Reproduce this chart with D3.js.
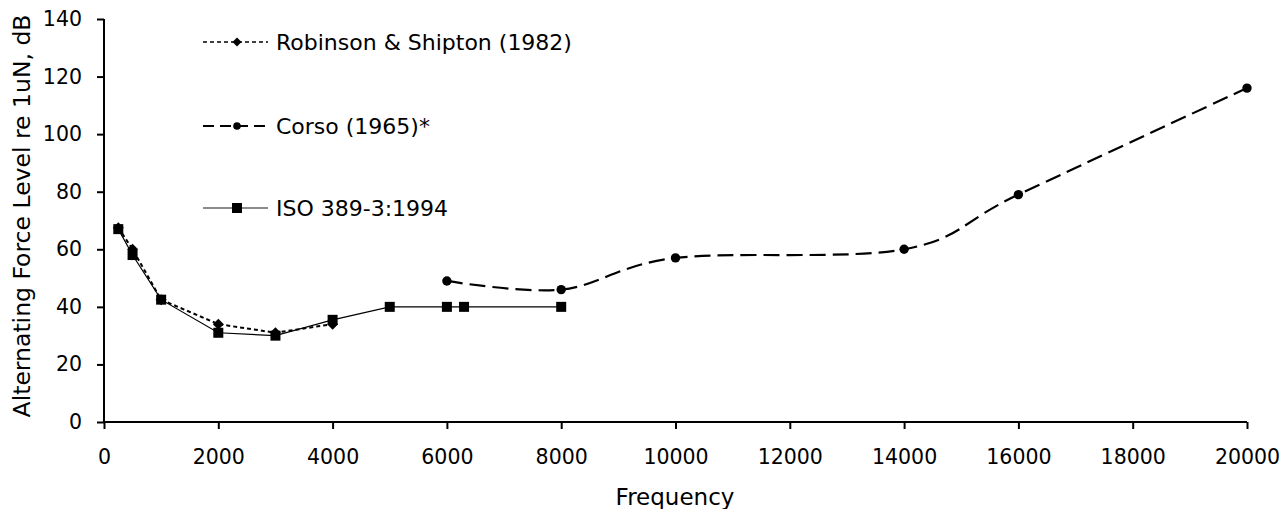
<!DOCTYPE html>
<html><head><meta charset="utf-8">
<script src="https://cdn.jsdelivr.net/npm/d3@7"></script>
<style>body{margin:0;background:#fff}svg{display:block}text{font-family:Verdana,"DejaVu Sans",sans-serif;fill:#000}</style>
</head><body><svg id="c" width="1286" height="509"></svg>
<script>
const robinsonFreq = [250, 500, 1000, 2000, 3000, 4000];
const robinsonLevel = [67.5, 60, 42.5, 34, 31, 34];
const corsoFreq = [6000, 8000, 10000, 14000, 16000, 20000];
const corsoLevel = [49, 46, 57, 60, 79, 116];
const isoFreq = [250, 500, 1000, 2000, 3000, 4000, 5000, 6000, 6300, 8000];
const isoLevel = [67, 58, 42.5, 31, 30, 35.5, 40, 40, 40, 40];
const xTicks = [0,2000,4000,6000,8000,10000,12000,14000,16000,18000,20000];
const yTicks = [0,20,40,60,80,100,120,140];

const svg = d3.select("#c");
const tfs = 20.5;
const x = d3.scaleLinear().domain([0,20000]).range([104,1247]);
const y = d3.scaleLinear().domain([0,140]).range([422,19]);

const xa = svg.append("g").attr("transform","translate(0,422)")
  .call(d3.axisBottom(x).tickValues(xTicks).tickSize(7).tickSizeOuter(0).tickPadding(20).tickFormat(d3.format("d")));
const ya = svg.append("g").attr("transform","translate(104,0)")
  .call(d3.axisLeft(y).tickValues(yTicks).tickSize(7).tickSizeOuter(0).tickPadding(15));
[xa,ya].forEach(a=>{a.selectAll("path,line").attr("stroke","#000").attr("stroke-width",2);
  a.selectAll("text").attr("font-size",tfs).attr("font-family","Verdana, 'DejaVu Sans', sans-serif");});
xa.select(".domain").attr("d","M104,0H1247");
ya.select(".domain").attr("d","M0,422V19");

svg.append("text").attr("x",675).attr("y",505).attr("text-anchor","middle").attr("font-size",23).text("Frequency");
svg.append("text").attr("transform","translate(30,216) rotate(-90)").attr("text-anchor","middle").attr("font-size",23.5).text("Alternating Force Level re 1uN, dB");

const mk = (f,l)=>f.map((d,i)=>({f:d,l:l[i]}));
const rob = mk(robinsonFreq,robinsonLevel), cor = mk(corsoFreq,corsoLevel), iso = mk(isoFreq,isoLevel);
const lineStraight = d3.line().x(d=>x(d.f)).y(d=>y(d.l));
const lineSmooth = d3.line().x(d=>x(d.f)).y(d=>y(d.l)).curve(d3.curveCatmullRom.alpha(0));

svg.append("path").attr("d",lineStraight(iso)).attr("fill","none").attr("stroke","#000").attr("stroke-width",1.2);
svg.append("path").attr("d",lineStraight(rob)).attr("fill","none").attr("stroke","#000").attr("stroke-width",2).attr("stroke-dasharray","4,3");
svg.append("path").attr("d",lineSmooth(cor)).attr("fill","none").attr("stroke","#000").attr("stroke-width",2.2).attr("stroke-dasharray","16,7");

const diamond = s=>`M0,${-s}L${s},0L0,${s}L${-s},0Z`;
svg.append("g").selectAll("path").data(rob).join("path").attr("d",diamond(5.5)).attr("transform",d=>`translate(${x(d.f)},${y(d.l)})`).attr("fill","#000");
svg.append("g").selectAll("circle").data(cor).join("circle").attr("cx",d=>x(d.f)).attr("cy",d=>y(d.l)).attr("r",4.7).attr("fill","#000");
svg.append("g").selectAll("rect").data(iso).join("rect").attr("x",d=>x(d.f)-5).attr("y",d=>y(d.l)-5).attr("width",10).attr("height",10).attr("fill","#000");

// legend
const lg = svg.append("g");
const rows = [
 {y:42, name:"Robinson & Shipton (1982)", dash:"4,3", w:1.5, col:"#000", m:"d"},
 {y:126, name:"Corso (1965)*", dash:"11,6", w:2, col:"#000", m:"c"},
 {y:208, name:"ISO 389-3:1994", dash:null, w:1.5, col:"#666", m:"s"}
];
rows.forEach(r=>{
  const l = lg.append("line").attr("x1",203).attr("x2",268).attr("y1",r.y).attr("y2",r.y).attr("stroke",r.col).attr("stroke-width",r.w);
  if(r.dash) l.attr("stroke-dasharray",r.dash);
  if(r.m==="d") lg.append("path").attr("d",diamond(4.5)).attr("transform",`translate(237,${r.y})`).attr("fill","#000");
  if(r.m==="c") lg.append("circle").attr("cx",237).attr("cy",r.y).attr("r",3.8).attr("fill","#000");
  if(r.m==="s") lg.append("rect").attr("x",232).attr("y",r.y-5).attr("width",10).attr("height",10).attr("fill","#000");
  lg.append("text").attr("x",276).attr("y",r.y).attr("dy","0.35em").attr("font-size",22).text(r.name);
});
</script></body></html>
